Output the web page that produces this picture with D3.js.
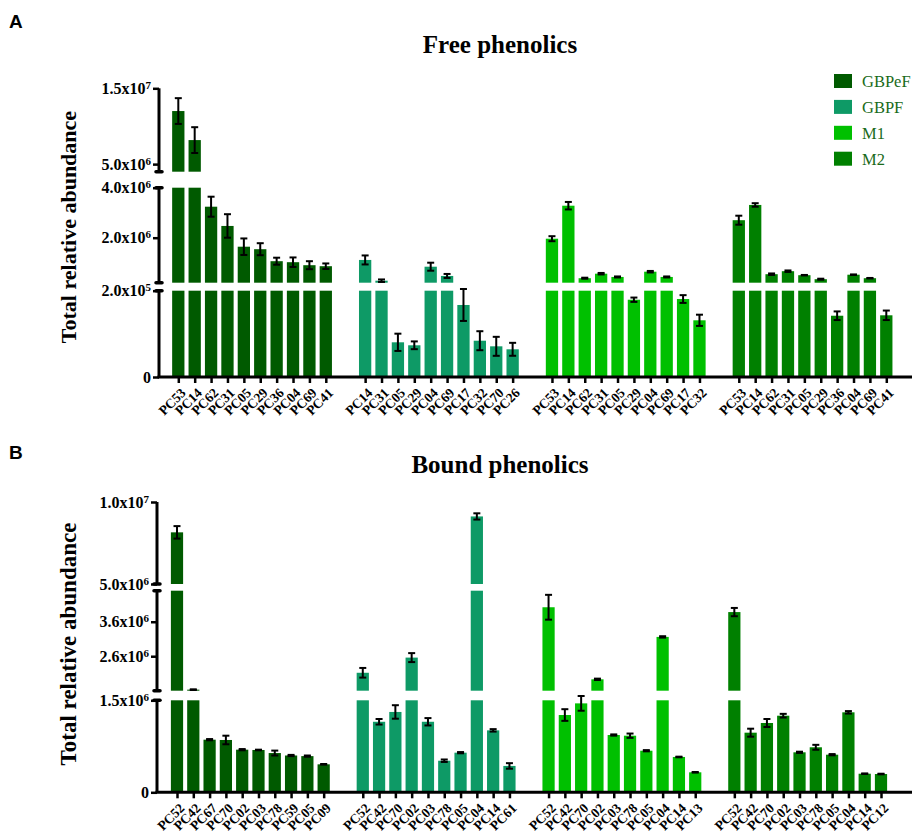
<!DOCTYPE html>
<html>
<head>
<meta charset="utf-8">
<script src="https://cdn.jsdelivr.net/npm/d3@7"></script>
<style>
  body { margin: 0; background: #fff; }
</style>
</head>
<body>
<div id="chart"></div>
<script>
// groups and their colours
var groupNames = ["GBPeF", "GBPF", "M1", "M2"];
var groupColors = ["#005a00", "#0e9a66", "#00c000", "#008000"];

// Free phenolics: compounds, means and SD per group
var freeCompounds = [
  ["PC53", "PC14", "PC62", "PC31", "PC05", "PC29", "PC36", "PC04", "PC69", "PC41"],
  ["PC14", "PC31", "PC05", "PC29", "PC04", "PC69", "PC17", "PC32", "PC70", "PC26"],
  ["PC53", "PC14", "PC62", "PC31", "PC05", "PC29", "PC04", "PC69", "PC17", "PC32"],
  ["PC53", "PC14", "PC62", "PC31", "PC05", "PC29", "PC36", "PC04", "PC69", "PC41"]
];
var freeMeans = [
  [12.0e6, 8.17e6, 3.24e6, 2.47e6, 1.64e6, 1.54e6, 1.06e6, 1.02e6, 0.90e6, 0.86e6],
  [1.11e6, 0.28e6, 80400, 73500, 0.84e6, 0.47e6, 166900, 84100, 71100, 64200],
  [1.96e6, 3.28e6, 0.38e6, 0.56e6, 0.43e6, 179100, 0.64e6, 0.43e6, 180700, 131400],
  [2.70e6, 3.31e6, 0.54e6, 0.66e6, 0.50e6, 0.34e6, 142000, 0.52e6, 0.38e6, 143000]
];
var freeSD = [
  [1.7e6, 1.7e6, 0.40e6, 0.47e6, 0.33e6, 0.24e6, 0.14e6, 0.19e6, 0.16e6, 0.11e6],
  [0.18e6, 0.05e6, 20000, 9000, 0.16e6, 0.08e6, 37000, 22000, 22000, 15000],
  [0.10e6, 0.15e6, 0.02e6, 0.03e6, 0.02e6, 5000, 0.03e6, 0.02e6, 9000, 13000],
  [0.18e6, 0.07e6, 0.03e6, 0.03e6, 0.01e6, 0.02e6, 10000, 0.01e6, 0.01e6, 11000]
];

// Bound phenolics
var boundCompounds = [
  ["PC52", "PC42", "PC67", "PC70", "PC02", "PC03", "PC78", "PC59", "PC05", "PC09"],
  ["PC52", "PC42", "PC70", "PC02", "PC03", "PC78", "PC05", "PC04", "PC14", "PC61"],
  ["PC52", "PC42", "PC70", "PC02", "PC03", "PC78", "PC05", "PC04", "PC14", "PC13"],
  ["PC52", "PC42", "PC70", "PC02", "PC03", "PC78", "PC05", "PC04", "PC14", "PC12"]
];
var boundMeans = [
  [8.15e6, 1.63e6, 0.858e6, 0.853e6, 0.695e6, 0.69e6, 0.64e6, 0.60e6, 0.59e6, 0.456e6],
  [2.12e6, 1.15e6, 1.31e6, 2.56e6, 1.15e6, 0.515e6, 0.646e6, 9.12e6, 1.01e6, 0.43e6],
  [4.02e6, 1.26e6, 1.45e6, 1.93e6, 0.934e6, 0.923e6, 0.678e6, 3.16e6, 0.576e6, 0.326e6],
  [3.88e6, 0.972e6, 1.13e6, 1.249e6, 0.652e6, 0.734e6, 0.613e6, 1.304e6, 0.303e6, 0.298e6]
];
var boundSD = [
  [0.38e6, 0.01e6, 0.01e6, 0.07e6, 0.01e6, 0.005e6, 0.04e6, 0.01e6, 0.01e6, 0.005e6],
  [0.14e6, 0.045e6, 0.11e6, 0.13e6, 0.06e6, 0.02e6, 0.01e6, 0.19e6, 0.02e6, 0.045e6],
  [0.36e6, 0.095e6, 0.12e6, 0.02e6, 0.01e6, 0.035e6, 0.01e6, 0.02e6, 0.005e6, 0.005e6],
  [0.12e6, 0.065e6, 0.065e6, 0.03e6, 0.01e6, 0.04e6, 0.01e6, 0.02e6, 0.005e6, 0.005e6]
];

// broken y axis: segment domains and tick values
var freeSegments = [[0, 2e5], [2e5, 4e6], [4e6, 1.5e7]];
var freeTicks = [[0, 2e5], [2e6, 4e6], [5e6, 1.5e7]];
var boundSegments = [[0, 1.5e6], [1.6e6, 4.5e6], [5e6, 1e7]];
var boundTicks = [[0, 1.5e6], [2.6e6, 3.6e6], [5e6, 1e7]];

var svgWidth = 912;
var svgHeight = 832;
var serif = "'Liberation Serif', 'Times New Roman', serif";
var groupGap = 11.4; // slots per group incl. spacing

var svg = d3.select("#chart")
  .append("svg")
  .attr("width", svgWidth)
  .attr("height", svgHeight);

function tickParts(v) {
  if (v === 0) return ["0", ""];
  var e = Math.floor(Math.log10(v) + 1e-9);
  return [(v / Math.pow(10, e)).toFixed(1) + "x10", String(e)];
}

function drawPanel(cfg) {
  var g = svg.append("g");

  // panel letter + title
  g.append("text")
    .attr("x", 9).attr("y", cfg.letterY)
    .style("font-family", "'Liberation Sans', Arial, sans-serif")
    .style("font-weight", "bold").style("font-size", "19px")
    .text(cfg.letter);

  g.append("text")
    .attr("x", 500).attr("y", cfg.titleY)
    .attr("text-anchor", "middle")
    .style("font-family", serif).style("font-weight", "bold").style("font-size", "25px")
    .text(cfg.title);

  // y label
  g.append("text")
    .attr("transform", `translate(76, ${cfg.labelY}) rotate(-90)`)
    .attr("text-anchor", "middle")
    .style("font-family", serif).style("font-weight", "bold").style("font-size", cfg.labelSize)
    .text("Total relative abundance");

  // one linear scale per axis segment
  var yScales = cfg.segments.map((s, k) => d3.scaleLinear().domain(s).range(cfg.yRanges[k]));

  var nGroups = cfg.names.length;
  var nPer = cfg.names[0].length;
  var xScale = d3.scaleLinear()
    .domain([0, (nGroups - 1) * groupGap + nPer - 1])
    .range(cfg.xRange);
  var slotStep = xScale(1) - xScale(0);
  var barW = slotStep * 0.75;

  var bars = [];
  cfg.names.forEach(function(list, gi) {
    list.forEach(function(name, i) {
      bars.push({ name: name, group: gi, slot: gi * groupGap + i,
                  mean: cfg.means[gi][i], sd: cfg.sd[gi][i] });
    });
  });

  // bars split over the axis segments
  cfg.segments.forEach(function(seg, k) {
    var y = yScales[k];
    g.append("g").selectAll("rect")
      .data(bars.filter(d => d.mean > seg[0]))
      .enter()
      .append("rect")
      .attr("x", d => xScale(d.slot) - barW / 2)
      .attr("width", barW)
      .attr("y", d => y(Math.min(d.mean, seg[1])))
      .attr("height", d => y(seg[0]) - y(Math.min(d.mean, seg[1])))
      .attr("fill", d => groupColors[d.group]);
  });

  // error bars, using the segment the mean falls into
  function segFor(v) {
    var k = 0;
    cfg.segments.forEach(function(s, j) { if (v >= s[0]) k = j; });
    return yScales[k];
  }
  var err = g.append("g").attr("stroke", "#000").attr("stroke-width", 2);
  bars.forEach(function(d) {
    var y = segFor(d.mean);
    var cx = xScale(d.slot);
    var y1 = y(d.mean + d.sd), y2 = y(d.mean - d.sd);
    err.append("line").attr("x1", cx).attr("x2", cx).attr("y1", y1).attr("y2", y2);
    err.append("line").attr("x1", cx - 3.5).attr("x2", cx + 3.5).attr("y1", y1).attr("y2", y1);
    err.append("line").attr("x1", cx - 3.5).attr("x2", cx + 3.5).attr("y1", y2).attr("y2", y2);
  });

  // y axis segments
  var ax = cfg.axisX;
  cfg.segments.forEach(function(seg, k) {
    var y = yScales[k];
    var axisG = g.append("g")
      .attr("transform", `translate(${ax}, 0)`)
      .call(d3.axisLeft(y).tickValues(cfg.ticks[k]).tickSize(6).tickPadding(2));
    axisG.select(".domain").remove();
    axisG.selectAll(".tick line").attr("stroke", "#000").attr("stroke-width", 2.5);
    axisG.selectAll(".tick text")
      .attr("fill", "#000")
      .style("font-family", serif).style("font-weight", "bold").style("font-size", "16px")
      .each(function(v) {
        var p = tickParts(v);
        var t = d3.select(this).text(p[0]);
        if (p[1]) t.append("tspan").attr("dy", "-0.45em").style("font-size", "11px").text(p[1]);
      });

    var r = y.range();
    g.append("line")
      .attr("x1", ax).attr("x2", ax)
      .attr("y1", r[0]).attr("y2", r[1])
      .attr("stroke", "#000").attr("stroke-width", 3);
    // break caps
    var ends = [];
    if (k > 0) ends.push(r[0]);
    if (k < cfg.segments.length - 1) ends.push(r[1]);
    ends.forEach(function(yy) {
      g.append("line")
        .attr("x1", ax - 3).attr("x2", ax + 3)
        .attr("y1", yy).attr("y2", yy)
        .attr("stroke", "#000").attr("stroke-width", 3.5)
        .attr("stroke-linecap", "round");
    });
  });

  // x axis
  var y0 = yScales[0](0);
  var xAxisG = g.append("g")
    .attr("transform", `translate(0, ${y0})`)
    .call(d3.axisBottom(xScale)
      .tickValues(bars.map(d => d.slot))
      .tickFormat((d, i) => bars[i].name)
      .tickSize(6));
  xAxisG.select(".domain").remove();
  xAxisG.selectAll(".tick line").attr("stroke", "#000").attr("stroke-width", 2.5);
  xAxisG.selectAll(".tick text")
    .attr("fill", "#000")
    .style("font-family", serif).style("font-weight", "bold").style("font-size", "13.5px")
    .attr("text-anchor", "end")
    .attr("transform", "translate(1, 10) rotate(-45)")
    .attr("dy", "0.7em")
    .attr("y", 0);

  g.append("line")
    .attr("x1", ax - 1.5).attr("x2", svgWidth)
    .attr("y1", y0).attr("y2", y0)
    .attr("stroke", "#000").attr("stroke-width", 3);

  // legend
  if (cfg.legend) {
    var leg = g.append("g");
    groupNames.forEach(function(name, i) {
      var ly = 81 + i * 25.9;
      leg.append("rect")
        .attr("x", 834).attr("y", ly - 7)
        .attr("width", 18).attr("height", 14)
        .attr("fill", groupColors[i]);
      leg.append("text")
        .attr("x", 862).attr("y", ly + 6)
        .style("font-family", serif).style("font-size", "16.5px")
        .attr("fill", "#1a6b1a")
        .text(name);
    });
  }
}

drawPanel({
  letter: "A", letterY: 28, title: "Free phenolics", titleY: 53,
  labelY: 227, labelSize: "22px",
  names: freeCompounds, means: freeMeans, sd: freeSD,
  segments: freeSegments, ticks: freeTicks,
  yRanges: [[377, 290.7], [282.7, 187.7], [171.7, 88.3]],
  xRange: [178.3, 886.3], axisX: 159, legend: true
});

drawPanel({
  letter: "B", letterY: 459, title: "Bound phenolics", titleY: 473,
  labelY: 644, labelSize: "23px",
  names: boundCompounds, means: boundMeans, sd: boundSD,
  segments: boundSegments, ticks: boundTicks,
  yRanges: [[792.3, 700.3], [690.7, 590.7], [584, 502]],
  xRange: [177, 881], axisX: 157, legend: false
});
</script>
</body>
</html>
